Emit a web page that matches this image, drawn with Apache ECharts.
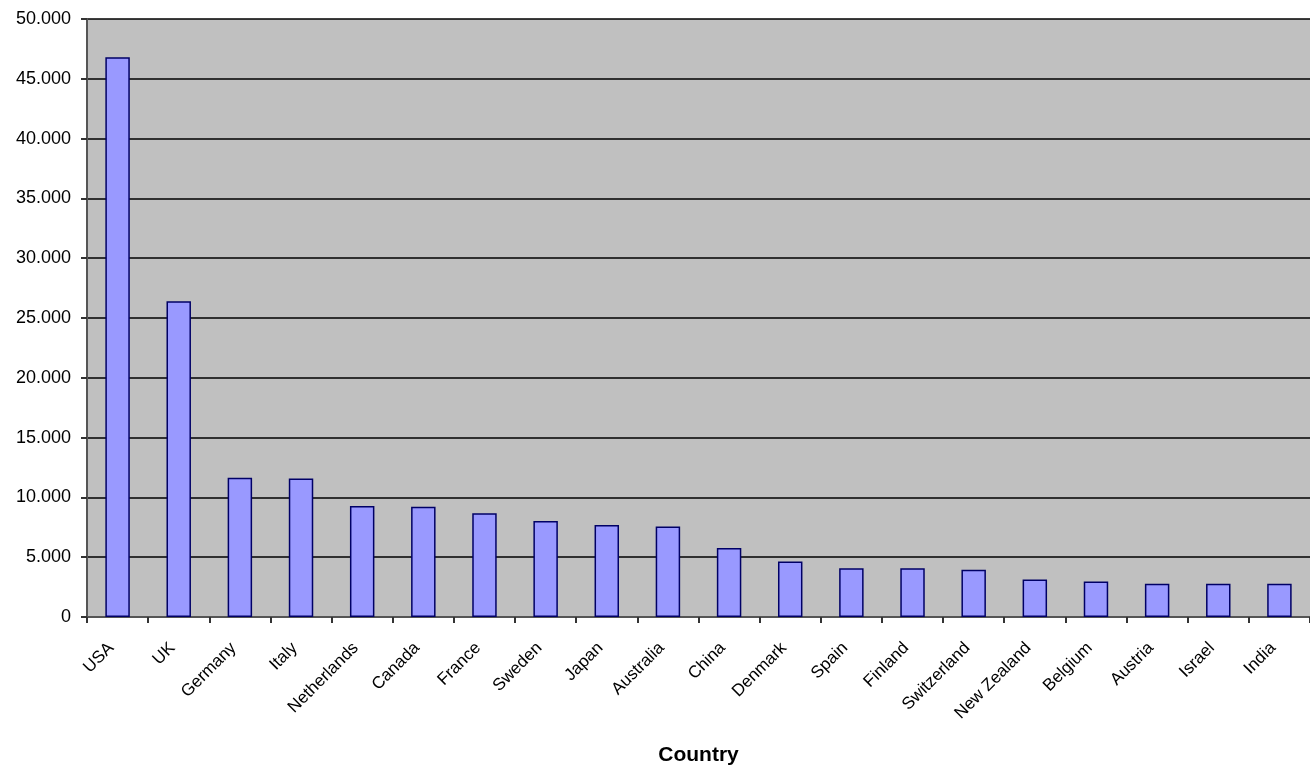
<!DOCTYPE html>
<html>
<head>
<meta charset="utf-8">
<script src="https://cdn.jsdelivr.net/npm/echarts@6/dist/echarts.min.js"></script>
<style>html,body{margin:0;padding:0;background:#fff;overflow:hidden;}#c{width:1310px;height:771px;}</style>
</head>
<body>
<div id="c"></div>
<script>
const countries = ["USA","UK","Germany","Italy","Netherlands","Canada","France","Sweden","Japan","Australia","China","Denmark","Spain","Finland","Switzerland","New Zealand","Belgium","Austria","Israel","India"];
const values = [46800,26400,11650,11580,9280,9220,8670,8030,7700,7560,5760,4650,4070,4070,3960,3130,2960,2770,2770,2770];
const yTicks = {min:0, max:50000, interval:5000};

const chart = echarts.init(document.getElementById('c'));
chart.setOption({
  animation:false,
  backgroundColor:'#ffffff',
  grid:{left:87, right:0, top:19, bottom:150, show:true, backgroundColor:'#c0c0c0', borderWidth:0, containLabel:false},
  xAxis:{
    type:'category', data:countries,
    axisLine:{lineStyle:{color:'#555', width:2}},
    axisTick:{show:true, alignWithLabel:false, length:6, lineStyle:{color:'#333', width:2}},
    axisLabel:{rotate:45, interval:0, margin:22, padding:[0,9,0,0], fontFamily:'Liberation Sans, Arial', fontSize:17, color:'#000'},
    name:'Country', nameLocation:'middle', nameGap:128,
    nameTextStyle:{fontFamily:'Liberation Sans, Arial', fontSize:21, fontWeight:'bold', color:'#000'}
  },
  yAxis:{
    type:'value', min:yTicks.min, max:yTicks.max, interval:yTicks.interval,
    axisLine:{show:true, lineStyle:{color:'#555', width:2}},
    axisTick:{show:true, length:6, lineStyle:{color:'#333', width:2}},
    splitLine:{show:true, lineStyle:{color:'#000', width:1.5}},
    axisLabel:{fontFamily:'Liberation Sans, Arial', fontSize:18, color:'#000', margin:16,
      formatter:v=>v===0?'0':v.toLocaleString('de-DE')}
  },
  series:[{
    type:'bar', data:values, barWidth:'40%',
    itemStyle:{color:'#9999ff', borderColor:'#000066', borderWidth:1.5}
  }]
});
</script>
</body>
</html>
